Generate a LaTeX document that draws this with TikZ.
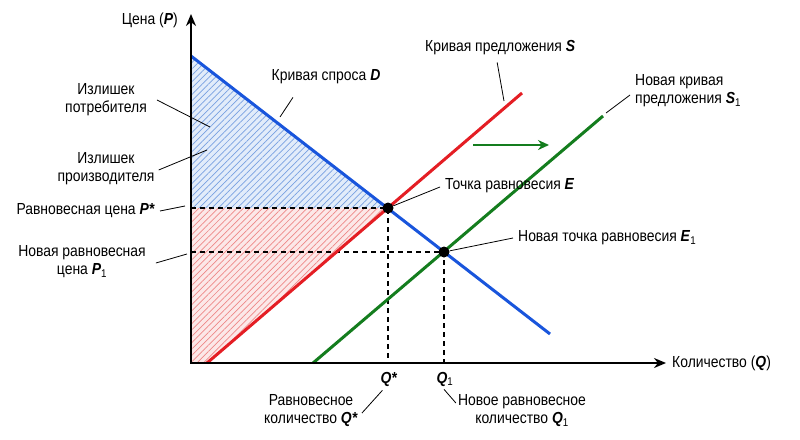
\documentclass[tikz,border=0pt]{standalone}
\usepackage{fontspec}
\setmainfont{Liberation Sans}[FakeStretch=0.87]
\usepackage{tikz}
\usetikzlibrary{arrows.meta,patterns.meta}
\definecolor{demandblue}{RGB}{25,85,220}
\definecolor{supplyred}{RGB}{228,30,36}
\definecolor{supplygreen}{RGB}{20,125,30}
\definecolor{bluefill}{RGB}{226,236,250}
\definecolor{bluehatch}{RGB}{120,160,225}
\definecolor{redfill}{RGB}{252,232,232}
\definecolor{redhatch}{RGB}{238,135,135}
\newcommand{\bi}[1]{\textbf{\textit{#1}}}
\newcommand{\low}[1]{\textsubscript{#1}}

\begin{document}
\begin{tikzpicture}[x=1pt,y=-1pt,
  every node/.style={font=\fontsize{16}{18}\selectfont,inner sep=0pt,align=center},
  curve/.style={line width=3pt},
  guide/.style={line width=1.2pt,dash pattern=on 5pt off 4pt},
  leader/.style={line width=0.8pt},
  axis/.style={line width=2.4pt},
  dot/.style={circle,fill=black,minimum size=11pt}]
\useasboundingbox (0,0) rectangle (800,439);
% points of the graph
\coordinate (O) at (191,363);
\coordinate (ytip) at (191,14);
\coordinate (xtip) at (666,363);
\coordinate (Dtop) at (191,56);
\coordinate (Dend) at (550,334);
\coordinate (Sbot) at (207,363);
\coordinate (Stop) at (522,93);
\coordinate (Sonebot) at (313,363);
\coordinate (Sonetop) at (603,116);
\coordinate (Pstar) at (191,208);
\coordinate (Pone) at (191,252);
\coordinate (Qstar) at (388,363);
\coordinate (Qone) at (444,363);
\coordinate (Ept) at (388,208);
\coordinate (Eonept) at (444,252);
% surplus areas
\fill[bluefill] (Dtop) -- (Ept) -- (Pstar) -- cycle;
\fill[pattern={Lines[angle=45,distance=4.5pt,line width=0.7pt]},pattern color=bluehatch] (Dtop) -- (Ept) -- (Pstar) -- cycle;
\fill[redfill] (Pstar) -- (Ept) -- (Sbot) -- (O) -- cycle;
\fill[pattern={Lines[angle=45,distance=4.5pt,line width=0.7pt]},pattern color=redhatch] (Pstar) -- (Ept) -- (Sbot) -- (O) -- cycle;
% guide lines
\draw[guide] (Pstar) -- (Ept) -- (Qstar);
\draw[guide] (Pone) -- (Eonept) -- (Qone);
% curves
\draw[curve,supplyred] (Sbot) -- (Stop);
\draw[curve,supplygreen] (Sonebot) -- (Sonetop);
\draw[curve,demandblue] (Dtop) -- (Dend);
\node[dot] (E) at (Ept) {};
\node[dot] (Eone) at (Eonept) {};
% axes
\draw[axis,{Stealth[length=12pt,width=10pt]}-{Stealth[length=12pt,width=10pt]}] (ytip) -- (O) -- (xtip);
% shift of supply
\coordinate (shiftfrom) at (473,145);
\coordinate (shiftto) at (549,145);
\draw[line width=2.4pt,supplygreen,-{Stealth[length=11pt,width=10pt]}] (shiftfrom) -- (shiftto);
% labels
\node[anchor=east] (Plab) at (178,20) {Цена (\bi{P})};
\node[anchor=west] (Qlab) at (672,363) {Количество (\bi{Q})};
\node (Dlab) at (326,77) {Кривая спроса \bi{D}};
\node (Cons) at (106,100) {Излишек\\потребителя};
\node (Prod) at (106,169) {Излишек\\производителя};
\node[anchor=east] (PstarLab) at (155,211) {Равновесная цена \bi{P*}};
\node (PoneLab) at (82,262) {Новая равновесная\\цена \bi{P}\low{1}};
\node[anchor=west] (Slab) at (425,48) {Кривая предложения \bi{S}};
\node[anchor=west,align=left] (Sonelab) at (635,91) {Новая кривая\\предложения \bi{S}\low{1}};
\node[anchor=west] (Elab) at (445,186) {Точка равновесия \bi{E}};
\node[anchor=west] (Eonelab) at (518,238) {Новая точка равновесия \bi{E}\low{1}};
\node (QstarLab) at (389,379) {\bi{Q*}};
\node (QoneLab) at (445,379) {\bi{Q}\low{1}};
\node (QstarDesc) at (311,411) {Равновесное\\количество \bi{Q*}};
\node (QoneDesc) at (522,411) {Новое равновесное\\количество \bi{Q}\low{1}};
% leader ends
\coordinate (Dpt) at (280,117);
\coordinate (Conspt) at (210,127);
\coordinate (Prodpt) at (207,150);
\coordinate (PstarPt) at (185,206);
\coordinate (PonePt) at (187,254);
\coordinate (Spt) at (504,101);
\coordinate (Sonept) at (606,113);
% leaders
\draw[leader] ([shift={(-33,13)}]Dlab.south) -- (Dpt);
\draw[leader] ([shift={(10,0)}]Cons.east) -- (Conspt);
\draw[leader] ([shift={(4,1)}]Prod.east) -- (Prodpt);
\draw[leader] ([shift={(5,0)}]PstarLab.east) -- (PstarPt);
\draw[leader] ([shift={(10,1)}]PoneLab.east) -- (PonePt);
\draw[leader] ([shift={(-3,7)}]Slab.south) -- (Spt);
\draw[leader] ([shift={(-5,4)}]Sonelab.west) -- (Sonept);
\draw[leader] ([shift={(-5,1)}]Elab.west) -- (E);
\draw[leader] ([shift={(-5,0)}]Eonelab.west) -- (Eone);
\draw[leader] ([shift={(4,2)}]QstarDesc.east) -- ([shift={(2,4)}]QstarLab.south west);
\draw[leader] ([shift={(-2,-8)}]QoneDesc.west) -- ([shift={(-1,3)}]QoneLab.south);
\end{tikzpicture}
\end{document}
